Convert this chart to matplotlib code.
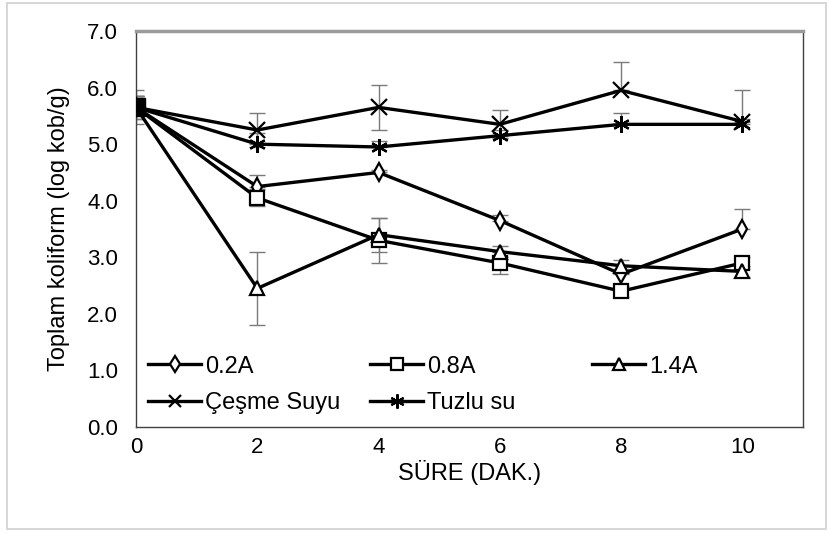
import numpy as np
import matplotlib
matplotlib.use("Agg")
import matplotlib.pyplot as plt
from matplotlib.patches import Rectangle

plt.rcParams["font.family"] = ["Liberation Sans", "DejaVu Sans"]

time = [0, 2, 4, 6, 8, 10]

labels = ["0.2A", "0.8A", "1.4A", "Çeşme Suyu", "Tuzlu su"]
v_02 = [5.65, 4.25, 4.5, 3.65, 2.7, 3.5]
v_08 = [5.65, 4.05, 3.3, 2.9, 2.4, 2.9]
v_14 = [5.65, 2.45, 3.4, 3.1, 2.85, 2.75]
v_cesme = [5.65, 5.25, 5.65, 5.35, 5.95, 5.4]
v_tuzlu = [5.65, 5.0, 4.95, 5.15, 5.35, 5.35]

# error bars (lower, upper)
err_02 = ([0, 0, 0, 0, 0, 0], [0.2, 0.2, 0.05, 0.1, 0.1, 0.35])
err_08 = ([0.2, 0.15, 0.4, 0.2, 0.1, 0.1], [0.2, 0.15, 0.4, 0.2, 0.1, 0.1])
err_14 = ([0.2, 0.65, 0.3, 0.1, 0.1, 0.1], [0.2, 0.65, 0.3, 0.1, 0.1, 0.1])
err_cesme = ([0.3, 0.3, 0.4, 0.25, 0, 0], [0.3, 0.3, 0.4, 0.25, 0.5, 0.55])
err_tuzlu = ([0, 0, 0, 0, 0, 0], [0.2, 0.2, 0.1, 0.1, 0.2, 0.1])

fig = plt.figure(figsize=(8.31, 5.33), dpi=100)
fig.patches.append(Rectangle((0.008, 0.008), 0.986, 0.986, transform=fig.transFigure,
                             fill=False, edgecolor="#d0d0d0", linewidth=1.2))
ax = fig.add_axes([0.1637, 0.1989, 0.8026, 0.7429])

series = [
    (v_02, err_02, "d", 9),
    (v_08, err_08, "s", 10),
    (v_14, err_14, "^", 10),
    (v_cesme, err_cesme, "x", 11),
    (v_tuzlu, err_tuzlu, (6, 2, 0), 12),
]

handles = []
for (vals, err, marker, size), label in zip(series, labels):
    ax.errorbar(time, vals, yerr=np.array(err), fmt="none", ecolor="#7a7a7a",
                elinewidth=1.0, capsize=6, capthick=1.0, zorder=2)
    h, = ax.plot(time, vals, color="black", linewidth=2.4, marker=marker,
                 markersize=size, markerfacecolor="white", markeredgecolor="black",
                 markeredgewidth=1.6, label=label, zorder=3)
    handles.append(h)

# overlapping markers at t=0 render as a solid block
ax.plot(time[0], v_08[0], marker="s", markersize=13, color="black", zorder=4)

ax.set_xlim(0, 11)
ax.set_ylim(0, 7)
ax.set_xticks([0, 2, 4, 6, 8, 10])
ax.set_yticks(np.arange(0, 7.01, 1.0))
ax.yaxis.set_major_formatter(plt.FormatStrFormatter("%.1f"))
ax.tick_params(length=0, labelsize=16)
ax.tick_params(axis="y", pad=13)
ax.tick_params(axis="x", pad=7)

for side in ["left", "bottom", "right"]:
    ax.spines[side].set_color("#404040")
    ax.spines[side].set_linewidth(1.0)
ax.spines["top"].set_color("#9a9a9a")
ax.spines["top"].set_linewidth(2.5)

ax.set_xlabel("SÜRE (DAK.)", fontsize=17, labelpad=2)
ax.set_ylabel("Toplam koliform (log kob/g)", fontsize=17, labelpad=12)

# legend laid out as three columns placed side by side
columns = [[0, 3], [1, 4], [2]]
col_x = [0.018, 0.351, 0.684]
for k, (cols, x0) in enumerate(zip(columns, col_x)):
    leg = ax.legend([handles[i] for i in cols], [labels[i] for i in cols],
                    loc="upper left", bbox_to_anchor=(x0, 0.18), frameon=False,
                    fontsize=17, handlelength=2.25, handletextpad=0.15,
                    labelspacing=0.6, borderpad=0, borderaxespad=0,
                    markerscale=0.85)
    if k < len(columns) - 1:
        ax.add_artist(leg)

fig.savefig("out.png", dpi=100)
